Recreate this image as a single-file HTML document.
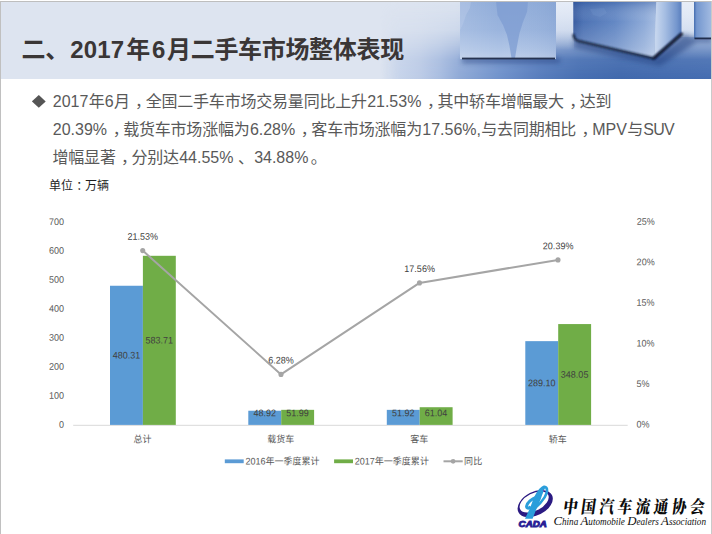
<!DOCTYPE html>
<html lang="zh-CN">
<head>
<meta charset="utf-8">
<title>二、2017年6月二手车市场整体表现</title>
<style>
html,body{margin:0;padding:0;background:#fff;}
body{width:712px;height:534px;position:relative;overflow:hidden;
  font-family:"Liberation Sans","Noto Sans CJK SC",sans-serif;}
#slide{position:absolute;left:0;top:0;width:712px;height:534px;background:#fff;overflow:hidden;}
#bt{position:absolute;left:0;top:1px;width:712px;height:1px;background:#bebebe;}
#bl{position:absolute;left:0;top:1px;width:1px;height:533px;background:#c0c0c0;}
#br{position:absolute;left:711px;top:1px;width:1px;height:533px;background:#cacaca;}
#banner{position:absolute;left:1px;top:2px;width:710px;height:77px;display:block;}
h1{position:absolute;left:21.6px;top:31.5px;margin:0;font-size:24px;line-height:36px;font-weight:bold;
  color:#3a3636;white-space:nowrap;letter-spacing:-0.32px;}
h1 .t{letter-spacing:0.15px;margin:0 1.6px 0 1.9px;}
.ln{position:absolute;left:52.5px;margin:0;font-size:16px;line-height:28px;color:#595959;white-space:nowrap;}
.ln .l{margin:0 0.3px;letter-spacing:0;}
.ln .c{position:relative;left:5.3px;}
#dm{position:absolute;left:32px;top:95px;width:14px;height:14px;}
#unit{position:absolute;left:49px;top:177px;font-size:12px;line-height:18px;color:#1f1f1f;white-space:nowrap;margin:0;}
#chart{position:absolute;left:0;top:200px;width:712px;height:280px;}
#chart text{font-family:"Liberation Sans","Noto Sans CJK SC",sans-serif;font-size:9.6px;fill:#595959;}
#chart text.dl{fill:#404040;}
#chart text.cat{font-size:9.6px;}
#logo{position:absolute;left:510px;top:478px;width:202px;height:56px;}
</style>
</head>
<body>
<div id="slide">
<svg id="banner" viewBox="1 2 710 77" preserveAspectRatio="none">
  <defs>
    <linearGradient id="bg" gradientUnits="userSpaceOnUse" x1="1" y1="0" x2="710" y2="0">
      <stop offset="0" stop-color="#dde4f0"/>
      <stop offset="0.58" stop-color="#dde4f0"/>
      <stop offset="0.64" stop-color="#dbe3f0"/>
      <stop offset="0.80" stop-color="#c3d1e9"/>
      <stop offset="1" stop-color="#d5e0f2"/>
    </linearGradient>
    <linearGradient id="floorh" gradientUnits="userSpaceOnUse" x1="380" y1="0" x2="710" y2="0">
      <stop offset="0" stop-color="#c6d3ea" stop-opacity="0"/>
      <stop offset="0.06" stop-color="#c6d3ea"/>
      <stop offset="0.12" stop-color="#bccbe6"/>
      <stop offset="0.18" stop-color="#a9bde0"/>
      <stop offset="0.24" stop-color="#8fa9d6"/>
      <stop offset="0.36" stop-color="#7092cb"/>
      <stop offset="0.485" stop-color="#577cbc"/>
      <stop offset="0.606" stop-color="#466eb1"/>
      <stop offset="0.727" stop-color="#4068ac"/>
      <stop offset="1" stop-color="#446cb0"/>
    </linearGradient>
    <linearGradient id="floorm" gradientUnits="userSpaceOnUse" x1="0" y1="1" x2="0" y2="79">
      <stop offset="0" stop-color="#fff" stop-opacity="0"/>
      <stop offset="0.12" stop-color="#fff" stop-opacity="0.04"/>
      <stop offset="0.37" stop-color="#fff" stop-opacity="0.18"/>
      <stop offset="0.56" stop-color="#fff" stop-opacity="0.5"/>
      <stop offset="0.75" stop-color="#fff" stop-opacity="0.9"/>
      <stop offset="1" stop-color="#fff" stop-opacity="1"/>
    </linearGradient>
    <mask id="fm" maskUnits="userSpaceOnUse" x="0" y="0" width="712" height="80">
      <rect x="0" y="0" width="712" height="80" fill="url(#floorm)"/>
    </mask>
    <linearGradient id="c1" gradientUnits="userSpaceOnUse" x1="0" y1="1" x2="0" y2="59">
      <stop offset="0" stop-color="#90acd9"/>
      <stop offset="0.5" stop-color="#9bb5de"/>
      <stop offset="0.85" stop-color="#b0c5e6"/>
      <stop offset="1" stop-color="#bccde9"/>
    </linearGradient>
    <linearGradient id="c1v" gradientUnits="userSpaceOnUse" x1="460" y1="0" x2="556" y2="0">
      <stop offset="0" stop-color="#ffffff" stop-opacity="0.12"/>
      <stop offset="0.4" stop-color="#ffffff" stop-opacity="0"/>
      <stop offset="1" stop-color="#3f67ab" stop-opacity="0.1"/>
    </linearGradient>
    <linearGradient id="c2a" gradientUnits="userSpaceOnUse" x1="573" y1="0" x2="657" y2="0">
      <stop offset="0" stop-color="#2f549b"/>
      <stop offset="0.12" stop-color="#446bb0"/>
      <stop offset="0.5" stop-color="#5c82c1"/>
      <stop offset="0.85" stop-color="#88a6d6"/>
      <stop offset="1" stop-color="#a3bbe1"/>
    </linearGradient>
    <linearGradient id="c2av" gradientUnits="userSpaceOnUse" x1="0" y1="2" x2="0" y2="58">
      <stop offset="0" stop-color="#2f549a" stop-opacity="0.35"/>
      <stop offset="0.35" stop-color="#ffffff" stop-opacity="0.05"/>
      <stop offset="0.8" stop-color="#ffffff" stop-opacity="0.22"/>
      <stop offset="1" stop-color="#ffffff" stop-opacity="0.35"/>
    </linearGradient>
    <linearGradient id="c2b" gradientUnits="userSpaceOnUse" x1="656" y1="0" x2="682" y2="0">
      <stop offset="0" stop-color="#c6d6ee"/>
      <stop offset="0.35" stop-color="#a5bde2"/>
      <stop offset="0.8" stop-color="#7496cd"/>
      <stop offset="1" stop-color="#577cbc"/>
    </linearGradient>
    <linearGradient id="c3" gradientUnits="userSpaceOnUse" x1="694" y1="0" x2="712" y2="0">
      <stop offset="0" stop-color="#456cb0"/>
      <stop offset="0.15" stop-color="#7497cf"/>
      <stop offset="1" stop-color="#a4bce2"/>
    </linearGradient>
    <linearGradient id="lite" gradientUnits="userSpaceOnUse" x1="0" y1="2" x2="0" y2="50">
      <stop offset="0" stop-color="#e8eef8" stop-opacity="0.95"/>
      <stop offset="0.6" stop-color="#e8eef8" stop-opacity="0.6"/>
      <stop offset="1" stop-color="#e8eef8" stop-opacity="0"/>
    </linearGradient>
    <filter id="bl1" x="-20%" y="-50%" width="140%" height="200%"><feGaussianBlur stdDeviation="0.8"/></filter>
    <filter id="bl2" x="-20%" y="-50%" width="140%" height="200%"><feGaussianBlur stdDeviation="2.5"/></filter>
    <filter id="bl0" x="-5%" y="-5%" width="110%" height="110%"><feGaussianBlur stdDeviation="0.5"/></filter>
  </defs>
  <rect x="1" y="1" width="710" height="78" fill="url(#bg)"/>
  <!-- floor: darkens to the right and downward -->
  <rect x="380" y="1" width="331" height="78" fill="url(#floorh)" mask="url(#fm)"/>
  <!-- bright gaps between cubes near the top -->
  <rect x="556" y="1" width="18" height="52" fill="url(#lite)"/>
  <rect x="681" y="1" width="14" height="36" fill="url(#lite)"/>
  <!-- soft shadows under the cubes -->
  <g filter="url(#bl2)" fill="#23407f" opacity="0.55">
    <rect x="462" y="58" width="98" height="5"/>
    <polygon points="574,38 654,59 684,34 700,40 660,66 574,48"/>
    <rect x="694" y="37" width="18" height="5"/>
  </g>
  <!-- cube 1 -->
  <g filter="url(#bl0)">
    <rect x="460" y="1" width="96" height="58" fill="url(#c1)"/>
    <rect x="460" y="1" width="96" height="58" fill="url(#c1v)"/>
    <!-- continent silhouettes on cube 1 -->
    <path d="M496 1 L528 1 L527 12 L523 22 L519.5 33 L517 46 L515 58 L511.5 58 L509.5 46 L507 35 L503 25 L497.5 15 Z" fill="#7d9cd1" opacity="0.75"/>
    <path d="M460 1 L471 1 L470 8 L466 15 L463 24 L460 30 Z" fill="#c6d5ed" opacity="0.3"/>
  </g>
  <rect x="462" y="57.6" width="93" height="1.8" fill="#14233f" filter="url(#bl0)" opacity="0.9"/>
  <!-- cube 2 -->
  <g filter="url(#bl0)">
    <path d="M573.3 1 L656.5 1 L654 57.8 L578 40.5 Q573.3 39 573.3 34 Z" fill="url(#c2a)"/>
    <path d="M573.3 1 L656.5 1 L654 57.8 L578 40.5 Q573.3 39 573.3 34 Z" fill="url(#c2av)"/>
    <path d="M656.5 1 L681.5 1 L681.5 33.5 L654 57.8 Z" fill="url(#c2b)"/>
    <path d="M590 9 L604 8 L607 13 L600 17 L593 15 Z" fill="#86a5d6" opacity="0.18"/>
  </g>
  <path d="M573.6 34 Q573.6 39.5 578 40.8 L653.5 58.4 L681.8 33.8" fill="none" stroke="#101c36" stroke-width="2.3" stroke-linejoin="round" filter="url(#bl1)" opacity="0.95"/>
  <path d="M654 58.2 L681.8 33.8" fill="none" stroke="#0d1830" stroke-width="2.6" stroke-linecap="round" filter="url(#bl1)" opacity="0.8"/>
  <!-- cube 3 -->
  <rect x="694" y="1" width="18" height="37.5" fill="url(#c3)" filter="url(#bl0)"/>
  <rect x="694.5" y="37.5" width="17" height="1.8" fill="#14233f" filter="url(#bl0)" opacity="0.9"/>
</svg>
<div id="bt"></div><div id="bl"></div><div id="br"></div>

<h1>二、<span class="t" style="margin:0 2.2px 0 1.2px">2017</span>年<span class="t">6</span>月二手车市场整体表现</h1>

<svg id="dm" viewBox="0 0 14 14"><polygon points="6.8,0.1 13.7,6.4 6.8,12.7 -0.1,6.4" fill="#555555"/></svg>
<p class="ln" style="top:88px;letter-spacing:-0.2px"><span class="l">2017</span>年<span class="l">6</span>月<span class="c">，</span>全国二手车市场交易量同比上升<span class="l">21.53%</span><span class="c">，</span>其中轿车增幅最大<span class="c">，</span>达到</p>
<p class="ln" style="top:116px;letter-spacing:-0.2px"><span class="l">20.39%</span><span class="c">，</span>载货车市场涨幅为<span class="l">6.28%</span><span class="c">，</span>客车市场涨幅为<span class="l">17.56%,</span>与去同期相比<span class="c">，</span><span class="l">MPV</span>与<span class="l" style="letter-spacing:-0.8px">SUV</span></p>
<p class="ln" style="top:144px;letter-spacing:-0.2px">增幅显著<span class="c">，</span>分别达<span class="l">44.55%</span> 、<span class="l">34.88%</span><span style="position:relative;left:2px">。</span></p>
<p id="unit">单位<span style="position:relative;left:3.2px">：</span>万辆</p>

<svg id="chart" viewBox="0 200 712 280">
  <rect x="73.2" y="424.8" width="554.5" height="1" fill="#d9d9d9"/>
  <g fill="#5b9bd5">
    <rect x="110.0" y="285.75" width="32.9" height="139.15"/>
    <rect x="248.3" y="410.73" width="32.9" height="14.17"/>
    <rect x="386.8" y="409.86" width="32.9" height="15.04"/>
    <rect x="525.3" y="341.15" width="32.9" height="83.75"/>
  </g>
  <g fill="#70ad47">
    <rect x="142.9" y="255.80" width="32.9" height="169.10"/>
    <rect x="281.2" y="409.84" width="32.9" height="15.06"/>
    <rect x="419.7" y="407.22" width="32.9" height="17.68"/>
    <rect x="558.2" y="324.07" width="32.9" height="100.83"/>
  </g>
  <polyline points="142.7,250.6 281.0,374.4 419.5,282.9 558.0,259.9" fill="none" stroke="#a5a5a5" stroke-width="2.0" stroke-linejoin="round" stroke-linecap="round"/>
  <g fill="#a5a5a5"><circle cx="142.7" cy="250.6" r="2.55"/><circle cx="281.0" cy="374.4" r="2.55"/><circle cx="419.5" cy="282.9" r="2.55"/><circle cx="558.0" cy="259.9" r="2.55"/></g>
  <g transform="rotate(0.03 356 330) scale(0.94 1)">
    <text x="68.09" y="427.84" text-anchor="end">0</text>
    <text x="68.09" y="398.87" text-anchor="end">100</text>
    <text x="68.09" y="369.90" text-anchor="end">200</text>
    <text x="68.09" y="340.93" text-anchor="end">300</text>
    <text x="68.09" y="311.96" text-anchor="end">400</text>
    <text x="68.09" y="282.99" text-anchor="end">500</text>
    <text x="68.09" y="254.02" text-anchor="end">600</text>
    <text x="68.09" y="225.05" text-anchor="end">700</text>
    <text x="677.23" y="427.39" text-anchor="start">0%</text>
    <text x="677.23" y="386.83" text-anchor="start">5%</text>
    <text x="677.23" y="346.27" text-anchor="start">10%</text>
    <text x="677.23" y="305.71" text-anchor="start">15%</text>
    <text x="677.23" y="265.15" text-anchor="start">20%</text>
    <text x="677.23" y="224.59" text-anchor="start">25%</text>
    <text class="cat" x="151.70" y="442.60" text-anchor="middle">总计</text>
    <text class="cat" x="298.83" y="442.60" text-anchor="middle">载货车</text>
    <text class="cat" x="446.17" y="442.60" text-anchor="middle">客车</text>
    <text class="cat" x="593.51" y="442.60" text-anchor="middle">轿车</text>
    <text class="dl" x="151.91" y="239.79" text-anchor="middle">21.53%</text>
    <text class="dl" x="299.04" y="363.50" text-anchor="middle">6.28%</text>
    <text class="dl" x="446.38" y="271.99" text-anchor="middle">17.56%</text>
    <text class="dl" x="593.72" y="249.04" text-anchor="middle">20.39%</text>
    <text class="dl" x="134.52" y="358.57" text-anchor="middle">480.31</text>
    <text class="dl" x="281.65" y="416.34" text-anchor="middle">48.92</text>
    <text class="dl" x="428.99" y="416.34" text-anchor="middle">51.92</text>
    <text class="dl" x="576.33" y="386.26" text-anchor="middle">289.10</text>
    <text class="dl" x="169.52" y="343.59" text-anchor="middle">583.71</text>
    <text class="dl" x="316.65" y="416.34" text-anchor="middle">51.99</text>
    <text class="dl" x="463.99" y="416.34" text-anchor="middle">61.04</text>
    <text class="dl" x="611.33" y="377.72" text-anchor="middle">348.05</text>
    <text class="cat" x="261.28" y="464.50" text-anchor="start">2016年一季度累计</text>
    <text class="cat" x="377.55" y="464.50" text-anchor="start">2017年一季度累计</text>
    <text class="cat" x="493.83" y="464.50" text-anchor="start">同比</text>
  </g>
  <rect x="224.8" y="459.4" width="18.9" height="3.8" fill="#5b9bd5"/>
  <rect x="334.1" y="459.4" width="18.9" height="3.8" fill="#70ad47"/>
  <line x1="443.5" y1="461.3" x2="462.7" y2="461.3" stroke="#a5a5a5" stroke-width="2"/>
  <circle cx="453.1" cy="461.3" r="2.4" fill="#a5a5a5"/>
</svg>

<svg id="logo" viewBox="510 478 202 56">
  <!-- CADA emblem: tilted indigo ring (thicker at the lower left) with a light-blue ribbon -->
  <g transform="rotate(-27 535.2 503.6)">
    <path fill-rule="evenodd" fill="#2b1a82" d="M516.4 503.6 a18.8 11.8 0 1 0 37.6 0 a18.8 11.8 0 1 0 -37.6 0 Z M519.3 501.7 a15.7 8.7 0 1 0 31.4 0 a15.7 8.7 0 1 0 -31.4 0 Z"/>
  </g>
  <path d="M525 518.8 L530 508 L533.6 498.6 C536 493 539.4 487.6 543.4 485.8 L546 486.8 C544.4 489 542.6 493.6 540.6 499.4 L536.4 509 L532.6 518.8 Z" fill="#2a9edb"/>
  <path d="M544.3 486.8 C548.4 487.2 547.4 493 544.6 497.4 C542 501.4 538.8 505 535.4 507.6" fill="none" stroke="#2a9edb" stroke-width="2.6" stroke-linecap="round"/>
  <path d="M536.4 497.2 C531.6 498.8 527.4 502.6 526.6 506 C526.2 508 528 508.9 529.6 507.4" fill="none" stroke="#2a9edb" stroke-width="2.9" stroke-linecap="round"/>
  <circle cx="543.6" cy="490.6" r="0.8" fill="#6a4fb0"/>
  <text x="518.6" y="526.5" font-family="'Liberation Sans',sans-serif" font-weight="bold" font-style="italic" font-size="8.4" fill="#2a1f96" stroke="#2a1f96" stroke-width="0.9" textLength="28.2" lengthAdjust="spacingAndGlyphs">CADA</text>
  <text x="0" y="0" font-family="'Liberation Serif','Noto Serif CJK SC',serif" font-weight="900" font-size="17.5" fill="#0a0a0a" textLength="170.4" lengthAdjust="spacing" transform="translate(562.4 513) skewX(-8) scale(0.83 1)">中国汽车流通协会</text>
  <text x="553.4" y="525.4" font-family="'Liberation Serif',serif" font-style="italic" font-size="9.6" fill="#111" textLength="152.6" lengthAdjust="spacingAndGlyphs"><tspan font-size="13.5">C</tspan>hina <tspan font-size="13.5">A</tspan>utomobile <tspan font-size="13.5">D</tspan>ealers <tspan font-size="13.5">A</tspan>ssociation</text>
</svg>
</div>
</body>
</html>
